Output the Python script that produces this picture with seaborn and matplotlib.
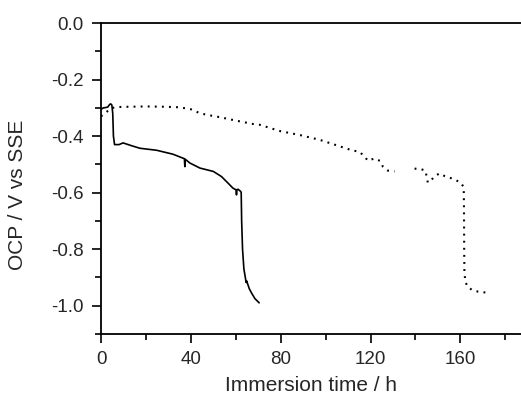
import numpy as np
import pandas as pd
import matplotlib
matplotlib.use("Agg")
import matplotlib.pyplot as plt
from matplotlib.ticker import MultipleLocator, FormatStrFormatter
import seaborn as sns

# solid curve (first sample)
solid_t = [0, 1, 2, 3, 3.8, 4.3, 4.8, 5.2, 5.5, 6, 8, 9.8, 13.6, 17.3, 24.7, 32,
           37.1, 37.3, 37.5, 39.5, 44, 50, 53.6, 56.5, 58.7, 60.1, 60.3, 60.5, 61,
           62.2, 62.4, 62.6, 63.0, 63.6, 64.4, 64.6, 64.8, 66, 67, 68.5, 70.4]
solid_v = [-0.305, -0.30, -0.299, -0.297, -0.288, -0.286, -0.29, -0.32, -0.40, -0.43,
           -0.43, -0.424, -0.434, -0.443, -0.45, -0.464,
           -0.48, -0.508, -0.482, -0.495, -0.513, -0.525, -0.543, -0.566, -0.584,
           -0.59, -0.608, -0.59, -0.588,
           -0.596, -0.60, -0.70, -0.80, -0.87, -0.908, -0.918, -0.912, -0.94, -0.955,
           -0.975, -0.99]

# dotted curve (second sample), measured in two parts with a gap
dot1_t = [0, 1.5, 3, 5, 8, 12.9, 20, 28, 35, 40, 44, 48, 52.9, 60, 67.6, 70.7,
          79.6, 88.4, 97.3, 104.7, 112, 115, 117.3, 118.8, 121.8, 124.3, 125.5,
          127.7, 130.7]
dot1_v = [-0.33, -0.32, -0.311, -0.30, -0.297, -0.296, -0.295, -0.296, -0.298,
          -0.305, -0.319, -0.326, -0.333, -0.345, -0.357, -0.36,
          -0.382, -0.396, -0.413, -0.432, -0.451, -0.455, -0.472, -0.487, -0.479,
          -0.488, -0.508, -0.522, -0.525]
dot2_t = [139.6, 142.5, 144.4, 145, 145.5, 146.5, 148.4, 150.7, 152.9, 155.9,
          158.1, 160.3, 161.5, 161.6, 161.7, 161.8, 162.2, 163.3, 165.5, 167.7,
          170.7, 172.4]
dot2_v = [-0.515, -0.517, -0.522, -0.543, -0.564, -0.561, -0.543, -0.532, -0.541,
          -0.549, -0.556, -0.566, -0.581, -0.65, -0.80, -0.88, -0.915, -0.934,
          -0.946, -0.95, -0.953, -0.955]

sns.set_style("ticks")
plt.rcParams['font.family'] = ['Liberation Sans', 'DejaVu Sans']
plt.rcParams['axes.unicode_minus'] = False

fig = plt.figure(figsize=(5.21, 3.98), dpi=100)
ax = fig.add_axes([0.194, 0.161, 0.806, 0.781])

df_solid = pd.DataFrame({"t": solid_t, "v": solid_v})
sns.lineplot(data=df_solid, x="t", y="v", ax=ax, color="black", lw=1.2,
             sort=False, estimator=None)

for tt, vv in [(dot1_t, dot1_v), (dot2_t, dot2_v)]:
    d = pd.DataFrame({"t": tt, "v": vv})
    sns.lineplot(data=d, x="t", y="v", ax=ax, color="black", lw=1.5,
                 sort=False, estimator=None, linestyle=(0, (0.9, 2.5)),
                 dash_capstyle="butt")

ax.set_xlim(0, 187)
ax.set_ylim(-1.1, 0.0)
ax.xaxis.set_major_locator(MultipleLocator(40))
ax.xaxis.set_minor_locator(MultipleLocator(20))
ax.yaxis.set_major_locator(MultipleLocator(0.2))
ax.yaxis.set_minor_locator(MultipleLocator(0.1))
ax.yaxis.set_major_formatter(FormatStrFormatter('%.1f'))

ax.tick_params(axis='both', which='major', direction='out', length=6.5, width=1.2,
               labelsize=13.5, pad=6, color='black')
ax.tick_params(axis='both', which='minor', direction='out', length=4.3, width=1.2,
               color='black')

ax.spines['right'].set_visible(False)
for s in ['left', 'bottom', 'top']:
    ax.spines[s].set_linewidth(1.3)
    ax.spines[s].set_color('black')

ax.set_xlabel('Immersion time / h', fontsize=15)
ax.set_ylabel('OCP / V vs SSE', fontsize=15)
ax.xaxis.set_label_coords(0.5, -0.135)
ax.yaxis.set_label_coords(-0.176, 0.447)

fig.savefig('out.png', dpi=100)
